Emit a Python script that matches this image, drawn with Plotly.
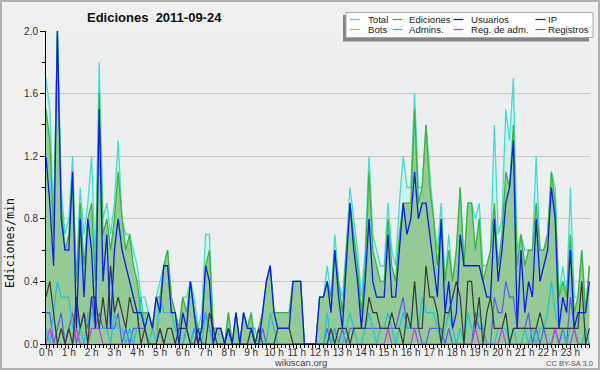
import plotly.graph_objects as go

# ---------------- data (10-minute bins, edits per minute) ----------------
hours = list(range(24))
hour_labels = [f"{h} h" for h in hours]
slots = [i / 6 for i in range(144)]  # bin start, in hours

total = [1.7, 1.5, 0.8, 2.0, 1.0, 0.7, 0.8, 1.2, 0.4, 1.0, 0.7, 0.9,
         1.2, 0.5, 1.8, 0.8, 0.9, 0.7, 0.9, 1.3, 0.8, 0.7, 0.7, 0.6,
         0.5, 0.3, 0.3, 0.2, 0.1, 0.3, 0.4, 0.5, 0.6, 0.3, 0.2, 0.1,
         0.3, 0.3, 0.4, 0.3, 0.1, 0.2, 0.7, 0.7, 0.1, 0.1, 0.1, 0.0,
         0.2, 0.0, 0.2, 0.0, 0.2, 0.1, 0.2, 0.0, 0.1, 0.2, 0.4, 0.5,
         0.2, 0.2, 0.2, 0.2, 0.2, 0.4, 0.4, 0.4, 0.0, 0.0, 0.0, 0.0,
         0.3, 0.3, 0.5, 0.3, 0.7, 0.4, 0.3, 0.6, 1.0, 0.8, 0.6, 0.3,
         0.6, 1.2, 0.7, 0.6, 0.5, 0.5, 0.9, 0.6, 0.5, 0.9, 1.2, 1.0,
         1.0, 1.6, 1.0, 1.0, 1.4, 1.1, 0.8, 0.6, 0.9, 0.4, 0.7, 0.4,
         0.6, 1.0, 0.5, 0.9, 0.9, 0.8, 0.9, 0.5, 0.5, 0.6, 1.4, 0.7,
         0.8, 1.5, 1.3, 1.7, 0.6, 0.7, 0.6, 0.6, 0.6, 1.2, 0.6, 0.6,
         0.7, 1.1, 1.0, 0.3, 0.5, 0.3, 1.0, 0.3, 0.3, 0.6, 0.2, 0.5]

ediciones = [1.5, 1.3, 0.7, 2.0, 0.9, 0.6, 0.7, 1.1, 0.4, 0.9, 0.5, 0.8,
             0.9, 0.4, 1.6, 0.7, 0.8, 0.6, 0.8, 1.1, 0.8, 0.6, 0.7, 0.5,
             0.4, 0.2, 0.2, 0.2, 0.1, 0.3, 0.3, 0.5, 0.6, 0.3, 0.2, 0.1,
             0.3, 0.2, 0.4, 0.2, 0.1, 0.1, 0.5, 0.6, 0.1, 0.1, 0.1, 0.0,
             0.2, 0.0, 0.2, 0.0, 0.2, 0.1, 0.2, 0.0, 0.1, 0.2, 0.4, 0.5,
             0.2, 0.2, 0.2, 0.2, 0.2, 0.4, 0.4, 0.4, 0.0, 0.0, 0.0, 0.0,
             0.3, 0.3, 0.4, 0.3, 0.6, 0.4, 0.2, 0.6, 0.9, 0.7, 0.5, 0.2,
             0.5, 1.1, 0.6, 0.5, 0.4, 0.4, 0.8, 0.5, 0.4, 0.7, 0.9, 0.9,
             0.9, 1.5, 0.9, 1.0, 1.4, 1.0, 0.8, 0.5, 0.8, 0.4, 0.6, 0.4,
             0.6, 1.0, 0.5, 0.9, 0.9, 0.6, 0.8, 0.4, 0.5, 0.6, 0.9, 0.5,
             0.7, 1.1, 1.0, 1.4, 0.5, 0.7, 0.5, 0.6, 0.6, 0.9, 0.6, 0.6,
             0.7, 1.1, 0.9, 0.3, 0.4, 0.3, 0.7, 0.2, 0.3, 0.6, 0.2, 0.5]

usuarios = [1.2, 0.9, 0.5, 2.0, 0.8, 0.6, 0.6, 1.1, 0.1, 0.8, 0.3, 0.8,
            0.6, 0.1, 1.5, 0.4, 0.7, 0.1, 0.6, 0.8, 0.6, 0.5, 0.4, 0.3,
            0.2, 0.2, 0.1, 0.2, 0.1, 0.3, 0.2, 0.5, 0.5, 0.2, 0.2, 0.0,
            0.2, 0.1, 0.4, 0.2, 0.0, 0.1, 0.5, 0.4, 0.0, 0.1, 0.1, 0.0,
            0.1, 0.0, 0.2, 0.0, 0.2, 0.1, 0.1, 0.0, 0.0, 0.2, 0.4, 0.5,
            0.2, 0.1, 0.1, 0.1, 0.1, 0.4, 0.4, 0.4, 0.0, 0.0, 0.0, 0.0,
            0.3, 0.3, 0.4, 0.2, 0.6, 0.3, 0.1, 0.5, 0.9, 0.6, 0.4, 0.1,
            0.4, 0.8, 0.4, 0.3, 0.3, 0.3, 0.7, 0.3, 0.3, 0.6, 0.9, 0.7,
            0.8, 1.1, 0.8, 0.9, 0.9, 0.7, 0.5, 0.3, 0.8, 0.2, 0.4, 0.1,
            0.2, 0.7, 0.5, 0.5, 0.5, 0.5, 0.5, 0.4, 0.3, 0.3, 0.8, 0.4,
            0.6, 0.9, 1.0, 1.3, 0.1, 0.6, 0.2, 0.4, 0.3, 0.8, 0.4, 0.5,
            0.6, 1.0, 0.8, 0.1, 0.3, 0.2, 0.6, 0.1, 0.2, 0.2, 0.2, 0.4]

ip = [0.3, 0.4, 0.2, 0.0, 0.1, 0.0, 0.1, 0.0, 0.3, 0.1, 0.2, 0.0,
      0.3, 0.3, 0.1, 0.3, 0.1, 0.5, 0.2, 0.3, 0.2, 0.1, 0.3, 0.2,
      0.2, 0.0, 0.1, 0.0, 0.0, 0.0, 0.1, 0.0, 0.1, 0.1, 0.0, 0.1,
      0.1, 0.1, 0.0, 0.0, 0.1, 0.0, 0.0, 0.2, 0.1, 0.0, 0.0, 0.0,
      0.1, 0.0, 0.0, 0.0, 0.0, 0.0, 0.1, 0.0, 0.1, 0.0, 0.0, 0.0,
      0.0, 0.1, 0.1, 0.1, 0.1, 0.0, 0.0, 0.0, 0.0, 0.0, 0.0, 0.0,
      0.0, 0.0, 0.0, 0.1, 0.0, 0.1, 0.1, 0.1, 0.0, 0.1, 0.1, 0.1,
      0.1, 0.3, 0.2, 0.2, 0.1, 0.1, 0.1, 0.2, 0.1, 0.1, 0.0, 0.2,
      0.1, 0.4, 0.1, 0.1, 0.5, 0.3, 0.3, 0.2, 0.0, 0.2, 0.2, 0.3,
      0.4, 0.3, 0.0, 0.4, 0.4, 0.1, 0.3, 0.0, 0.2, 0.3, 0.1, 0.1,
      0.1, 0.2, 0.0, 0.1, 0.1, 0.1, 0.1, 0.1, 0.1, 0.1, 0.2, 0.1,
      0.1, 0.1, 0.1, 0.1, 0.1, 0.1, 0.1, 0.1, 0.1, 0.4, 0.0, 0.1]

bots = [0.0] * 144

admins = [0.1, 0.0, 0.2, 0.4, 0.3, 0.3, 0.3, 0.1, 0.2, 0.1, 0.0, 0.2,
          0.2, 0.1, 0.1, 0.1, 0.1, 0.0, 0.2, 0.1, 0.1, 0.0, 0.1, 0.0,
          0.1, 0.3, 0.1, 0.0, 0.1, 0.0, 0.3, 0.2, 0.2, 0.2, 0.1, 0.0,
          0.0, 0.1, 0.0, 0.1, 0.1, 0.0, 0.2, 0.1, 0.0, 0.0, 0.0, 0.0,
          0.0, 0.0, 0.0, 0.0, 0.0, 0.0, 0.1, 0.1, 0.0, 0.0, 0.0, 0.2,
          0.1, 0.0, 0.0, 0.0, 0.0, 0.0, 0.0, 0.0, 0.0, 0.0, 0.0, 0.0,
          0.0, 0.0, 0.2, 0.0, 0.1, 0.0, 0.0, 0.1, 0.2, 0.1, 0.0, 0.0,
          0.1, 0.2, 0.1, 0.0, 0.1, 0.1, 0.2, 0.1, 0.0, 0.1, 0.2, 0.1,
          0.1, 0.4, 0.1, 0.3, 0.2, 0.2, 0.2, 0.1, 0.0, 0.1, 0.2, 0.1,
          0.0, 0.1, 0.0, 0.2, 0.1, 0.1, 0.2, 0.1, 0.0, 0.0, 0.0, 0.1,
          0.1, 0.1, 0.0, 0.1, 0.0, 0.0, 0.1, 0.0, 0.1, 0.0, 0.1, 0.1,
          0.2, 0.4, 0.2, 0.1, 0.1, 0.0, 0.1, 0.1, 0.0, 0.0, 0.1, 0.0]

reg_adm = [0.0, 0.1, 0.0, 0.0, 0.0, 0.0, 0.0, 0.0, 0.1, 0.0, 0.0, 0.0,
           0.1, 0.1, 0.1, 0.0, 0.0, 0.0, 0.0, 0.0, 0.0, 0.0, 0.0, 0.0,
           0.0, 0.0, 0.0, 0.0, 0.0, 0.0, 0.0, 0.0, 0.0, 0.0, 0.0, 0.0,
           0.0, 0.0, 0.0, 0.0, 0.0, 0.0, 0.0, 0.0, 0.0, 0.0, 0.0, 0.0,
           0.0, 0.0, 0.0, 0.0, 0.0, 0.0, 0.0, 0.0, 0.0, 0.0, 0.0, 0.0,
           0.0, 0.0, 0.0, 0.0, 0.0, 0.0, 0.0, 0.0, 0.0, 0.0, 0.0, 0.0,
           0.0, 0.0, 0.0, 0.0, 0.0, 0.0, 0.0, 0.0, 0.0, 0.0, 0.0, 0.0,
           0.0, 0.0, 0.0, 0.0, 0.0, 0.0, 0.1, 0.0, 0.0, 0.0, 0.0, 0.0,
           0.0, 0.1, 0.0, 0.0, 0.0, 0.0, 0.0, 0.0, 0.0, 0.0, 0.0, 0.0,
           0.0, 0.0, 0.0, 0.0, 0.0, 0.1, 0.0, 0.0, 0.0, 0.0, 0.0, 0.0,
           0.1, 0.0, 0.0, 0.0, 0.0, 0.0, 0.0, 0.0, 0.0, 0.0, 0.0, 0.0,
           0.0, 0.0, 0.1, 0.0, 0.0, 0.0, 0.0, 0.1, 0.0, 0.0, 0.0, 0.0]

registros = [0.2, 0.2, 0.0, 0.1, 0.2, 0.0, 0.1, 0.2, 0.0, 0.1, 0.2, 0.1,
             0.3, 0.1, 0.2, 0.1, 0.1, 0.1, 0.1, 0.2, 0.0, 0.1, 0.0, 0.1,
             0.1, 0.1, 0.1, 0.0, 0.0, 0.0, 0.1, 0.0, 0.0, 0.0, 0.0, 0.0,
             0.0, 0.1, 0.0, 0.1, 0.0, 0.1, 0.2, 0.1, 0.0, 0.0, 0.0, 0.0,
             0.0, 0.0, 0.0, 0.0, 0.0, 0.0, 0.0, 0.0, 0.0, 0.1, 0.0, 0.0,
             0.0, 0.0, 0.0, 0.0, 0.0, 0.0, 0.0, 0.0, 0.0, 0.0, 0.0, 0.0,
             0.0, 0.0, 0.1, 0.0, 0.1, 0.0, 0.1, 0.0, 0.1, 0.1, 0.1, 0.1,
             0.1, 0.1, 0.1, 0.1, 0.1, 0.1, 0.1, 0.1, 0.1, 0.2, 0.3, 0.1,
             0.1, 0.1, 0.1, 0.0, 0.0, 0.1, 0.1, 0.1, 0.1, 0.0, 0.1, 0.0,
             0.0, 0.0, 0.0, 0.0, 0.0, 0.2, 0.1, 0.1, 0.0, 0.0, 0.3, 0.2,
             0.2, 0.4, 0.3, 0.3, 0.1, 0.1, 0.1, 0.2, 0.0, 0.1, 0.0, 0.1,
             0.0, 0.0, 0.1, 0.0, 0.1, 0.0, 0.3, 0.1, 0.0, 0.0, 0.0, 0.0]

y_ticks = [0.0, 0.4, 0.8, 1.2, 1.6, 2.0]

# ---------------- styling ----------------
C_TOTAL = "#45dccf"
C_TOTAL_FILL = "rgba(205,240,236,0.95)"
C_ED = "#3cb43c"
C_ED_FILL = "rgba(146,200,146,0.97)"
C_USU = "#0a1ee8"
C_IP = "#383838"
C_BOTS = "#f5a030"
C_ADM = "#22c2d6"
C_REGADM = "#c83ce0"
C_REG = "#5a5af5"
FONT = "Liberation Sans"

L, R, T, B = 46, 10, 31, 26
W, H = 600, 370
PW, PH = W - L - R, H - T - B


def px(x):
    return (x - L) / PW


def py(y):
    return (H - B - y) / PH


fig = go.Figure()

fig.add_trace(go.Scatter(x=slots, y=bots, mode="lines", line=dict(color=C_BOTS, width=1.2)))
fig.add_trace(go.Scatter(x=slots, y=total, mode="lines", fill="tozeroy", fillcolor=C_TOTAL_FILL,
                         line=dict(color=C_TOTAL, width=1.3)))
fig.add_trace(go.Scatter(x=slots, y=ediciones, mode="lines", fill="tozeroy", fillcolor=C_ED_FILL,
                         line=dict(color=C_ED, width=1.3)))
fig.add_trace(go.Scatter(x=slots, y=registros, mode="lines", line=dict(color=C_REG, width=1.2)))
fig.add_trace(go.Scatter(x=slots, y=admins, mode="lines", line=dict(color=C_ADM, width=1.2)))
fig.add_trace(go.Scatter(x=slots, y=reg_adm, mode="lines", line=dict(color=C_REGADM, width=1.2)))
fig.add_trace(go.Scatter(x=slots, y=ip, mode="lines", line=dict(color=C_IP, width=1.2)))
fig.add_trace(go.Scatter(x=slots, y=usuarios, mode="lines", line=dict(color=C_USU, width=1.3)))

fig.update_layout(
    width=W, height=H,
    margin=dict(l=L, r=R, t=T, b=B),
    paper_bgcolor="#f0f0f0",
    plot_bgcolor="#edeef0",
    showlegend=False,
    font=dict(family=FONT, size=10, color="#333"),
)

fig.update_xaxes(
    range=[0, 23.86], tickvals=hours, ticktext=hour_labels,
    ticks="outside", ticklen=4, tickwidth=1, tickcolor="black",
    showline=True, linecolor="black", linewidth=1,
    showgrid=False, zeroline=False, ticklabelstandoff=-5,
    tickfont=dict(family=FONT, size=10, color="#333"),
    minor=dict(dtick=1 / 6, ticks="outside", ticklen=3, tickcolor="black", showgrid=False),
)
fig.update_yaxes(
    range=[0, 2.0], tickvals=y_ticks, tickformat=".1f",
    ticks="outside", ticklen=5, tickwidth=1, tickcolor="black",
    showline=True, linecolor="black", linewidth=1,
    showgrid=True, gridcolor="#c9c9c9", gridwidth=1, zeroline=False,
    tickfont=dict(family=FONT, size=10, color="#333"),
    minor=dict(dtick=0.2, ticks="outside", ticklen=3, tickcolor="black", showgrid=False),
)

shapes = []
annotations = []

# outer frame
shapes.append(dict(type="rect", xref="paper", yref="paper",
                   x0=px(1), x1=px(599), y0=py(1), y1=py(369),
                   line=dict(color="#b0b0b0", width=2), layer="below"))

# legend box with shadow
shapes.append(dict(type="rect", xref="paper", yref="paper",
                   x0=px(343), x1=px(589), y0=py(15), y1=py(41.5),
                   line=dict(width=0), fillcolor="#858585"))
shapes.append(dict(type="rect", xref="paper", yref="paper",
                   x0=px(346), x1=px(593), y0=py(12.5), y1=py(37.5),
                   line=dict(color="#a8a8a8", width=1), fillcolor="#ffffff"))

legend_items = [
    ("Total", C_TOTAL, 350, 365.5, 19.5), ("Ediciones", C_ED, 392.5, 407, 19.5),
    ("Usuarios", C_USU, 453.5, 469, 19.5), ("IP", C_IP, 535.5, 545.5, 19.5),
    ("Bots", C_BOTS, 350, 365.5, 29.5), ("Admins.", C_ADM, 392.5, 407, 29.5),
    ("Reg. de adm.", C_REGADM, 453.5, 469, 29.5), ("Registros", C_REG, 535.5, 545.5, 29.5),
]
for name, col, lx, tx, yy in legend_items:
    shapes.append(dict(type="line", xref="paper", yref="paper",
                       x0=px(lx), x1=px(lx + 10), y0=py(yy), y1=py(yy),
                       line=dict(color=col, width=1.3)))
    annotations.append(dict(text=name, xref="paper", yref="paper", x=px(tx), y=py(yy),
                            xanchor="left", yanchor="middle", showarrow=False,
                            font=dict(family=FONT, size=9.6, color="#222")))

annotations.append(dict(text="Ediciones\u00a0\u00a02011-09-24", xref="paper", yref="paper",
                        x=px(154), y=py(17), xanchor="center", yanchor="middle", showarrow=False,
                        font=dict(family=FONT, size=13, color="#111", weight="bold")))
annotations.append(dict(text="Ediciones/min", xref="paper", yref="paper",
                        x=px(10), y=py(243), xanchor="center", yanchor="middle", showarrow=False,
                        textangle=-90, font=dict(family="DejaVu Sans Mono", size=11.5, color="#111")))
annotations.append(dict(text="wikiscan.org", xref="paper", yref="paper",
                        x=px(300), y=py(362), xanchor="center", yanchor="middle", showarrow=False,
                        font=dict(family=FONT, size=9.5, color="#444")))
annotations.append(dict(text="CC BY-SA 3.0", xref="paper", yref="paper",
                        x=px(569), y=py(363), xanchor="center", yanchor="middle", showarrow=False,
                        font=dict(family=FONT, size=7.5, color="#555")))

fig.update_layout(shapes=shapes, annotations=annotations)
fig.write_html("out.html",
               config={"displayModeBar": False},
               post_script="document.body.style.margin='0';document.body.style.padding='0';"
                           "document.body.style.overflow='hidden';")
